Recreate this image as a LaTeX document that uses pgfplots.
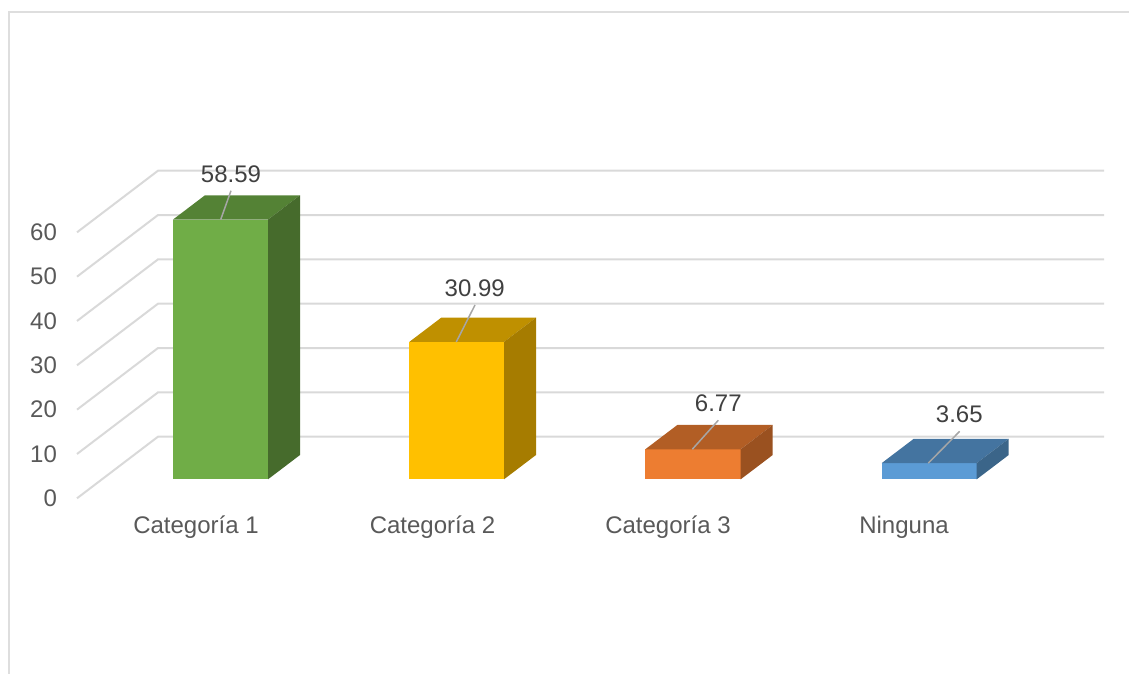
\documentclass[border=0pt]{standalone}
\usepackage{fontspec}
\setmainfont{Liberation Sans}
\usepackage{pgfplots}
\pgfplotsset{compat=1.18}
\definecolor{gridc}{HTML}{D9D9D9}
\definecolor{framec}{HTML}{DEDEDE}
\definecolor{leader}{HTML}{A6A6A6}
\definecolor{tickc}{HTML}{595959}
\definecolor{labc}{HTML}{404040}
\definecolor{gF}{HTML}{70AD47}\definecolor{gT}{HTML}{548235}\definecolor{gS}{HTML}{466B2C}
\definecolor{yF}{HTML}{FFC000}\definecolor{yT}{HTML}{BF9000}\definecolor{yS}{HTML}{A67C00}
\definecolor{oF}{HTML}{ED7D31}\definecolor{oT}{HTML}{B25E25}\definecolor{oS}{HTML}{9A5120}
\definecolor{bF}{HTML}{5B9BD5}\definecolor{bT}{HTML}{4474A0}\definecolor{bS}{HTML}{3B6589}
\begin{document}
\begin{tikzpicture}
\begin{axis}[
  scale only axis, width=564.5pt, height=337pt,
  xmin=0, xmax=1129, ymin=-43.92, ymax=108.12,
  axis line style={draw=none},
  major tick length=0pt, tick style={draw=none},
  xtick={196,432.5,668,904},
  xticklabels={Categoría 1,Categoría 2,Categoría 3,Ninguna},
  ytick={-4.29,5.71,15.71,25.71,35.71,45.71,55.71},
  yticklabels={0,10,20,30,40,50,60},
  tick label style={font=\fontsize{12}{14}\selectfont, text=tickc, inner sep=0pt},
  xticklabel style={anchor=center, yshift=73.35pt},
  yticklabel style={anchor=east, xshift=28.65pt},
]
% frame
\addplot[framec, line width=1pt] coordinates {(9,-43.92)(9,105.41)(1129,105.41)};
% grid
\addplot[gridc, line width=1pt] coordinates {(77,-4.29)(158,9.61)(1104,9.61)};
\addplot[gridc, line width=1pt] coordinates {(77,5.71)(158,19.61)(1104,19.61)};
\addplot[gridc, line width=1pt] coordinates {(77,15.71)(158,29.61)(1104,29.61)};
\addplot[gridc, line width=1pt] coordinates {(77,25.71)(158,39.61)(1104,39.61)};
\addplot[gridc, line width=1pt] coordinates {(77,35.71)(158,49.61)(1104,49.61)};
\addplot[gridc, line width=1pt] coordinates {(77,45.71)(158,59.61)(1104,59.61)};
\addplot[gridc, line width=1pt] coordinates {(77,55.71)(158,69.61)(1104,69.61)};
% bar 1
\addplot[fill=gF, draw=none] coordinates {(173,0)(268,0)(268,58.59)(173,58.59)} -- cycle;
\addplot[fill=gT, draw=none] coordinates {(173,58.59)(268,58.59)(300,64.07)(205,64.07)} -- cycle;
\addplot[fill=gS, draw=none] coordinates {(268,0)(300,5.48)(300,64.07)(268,58.59)} -- cycle;
% bar 2
\addplot[fill=yF, draw=none] coordinates {(409.3,0)(504,0)(504,30.99)(409.3,30.99)} -- cycle;
\addplot[fill=yT, draw=none] coordinates {(409.3,30.99)(504,30.99)(536,36.47)(441.3,36.47)} -- cycle;
\addplot[fill=yS, draw=none] coordinates {(504,0)(536,5.48)(536,36.47)(504,30.99)} -- cycle;
% bar 3
\addplot[fill=oF, draw=none] coordinates {(645.3,0)(740.7,0)(740.7,6.77)(645.3,6.77)} -- cycle;
\addplot[fill=oT, draw=none] coordinates {(645.3,6.77)(740.7,6.77)(772.7,12.25)(677.3,12.25)} -- cycle;
\addplot[fill=oS, draw=none] coordinates {(740.7,0)(772.7,5.48)(772.7,12.25)(740.7,6.77)} -- cycle;
% bar 4
\addplot[fill=bF, draw=none] coordinates {(881.7,0)(976.7,0)(976.7,3.65)(881.7,3.65)} -- cycle;
\addplot[fill=bT, draw=none] coordinates {(881.7,3.65)(976.7,3.65)(1008.7,9.13)(913.7,9.13)} -- cycle;
\addplot[fill=bS, draw=none] coordinates {(976.7,0)(1008.7,5.48)(1008.7,9.13)(976.7,3.65)} -- cycle;
% leader lines
\addplot[leader, line width=0.75pt] coordinates {(220.7,58.59)(231,65.10)};
\addplot[leader, line width=0.75pt] coordinates {(456.3,30.99)(475,39.32)};
\addplot[leader, line width=0.75pt] coordinates {(692.3,6.77)(718.3,13.31)};
\addplot[leader, line width=0.75pt] coordinates {(928.3,3.65)(959.7,10.83)};
% data labels
\node[text=labc, inner sep=0pt, font=\fontsize{12}{14}\selectfont] at (axis cs:231,68.9) {58.59};
\node[text=labc, inner sep=0pt, font=\fontsize{12}{14}\selectfont] at (axis cs:474.7,43.15) {30.99};
\node[text=labc, inner sep=0pt, font=\fontsize{12}{14}\selectfont] at (axis cs:718.3,17.14) {6.77};
\node[text=labc, inner sep=0pt, font=\fontsize{12}{14}\selectfont] at (axis cs:959.3,14.73) {3.65};
\end{axis}
\end{tikzpicture}
\end{document}
